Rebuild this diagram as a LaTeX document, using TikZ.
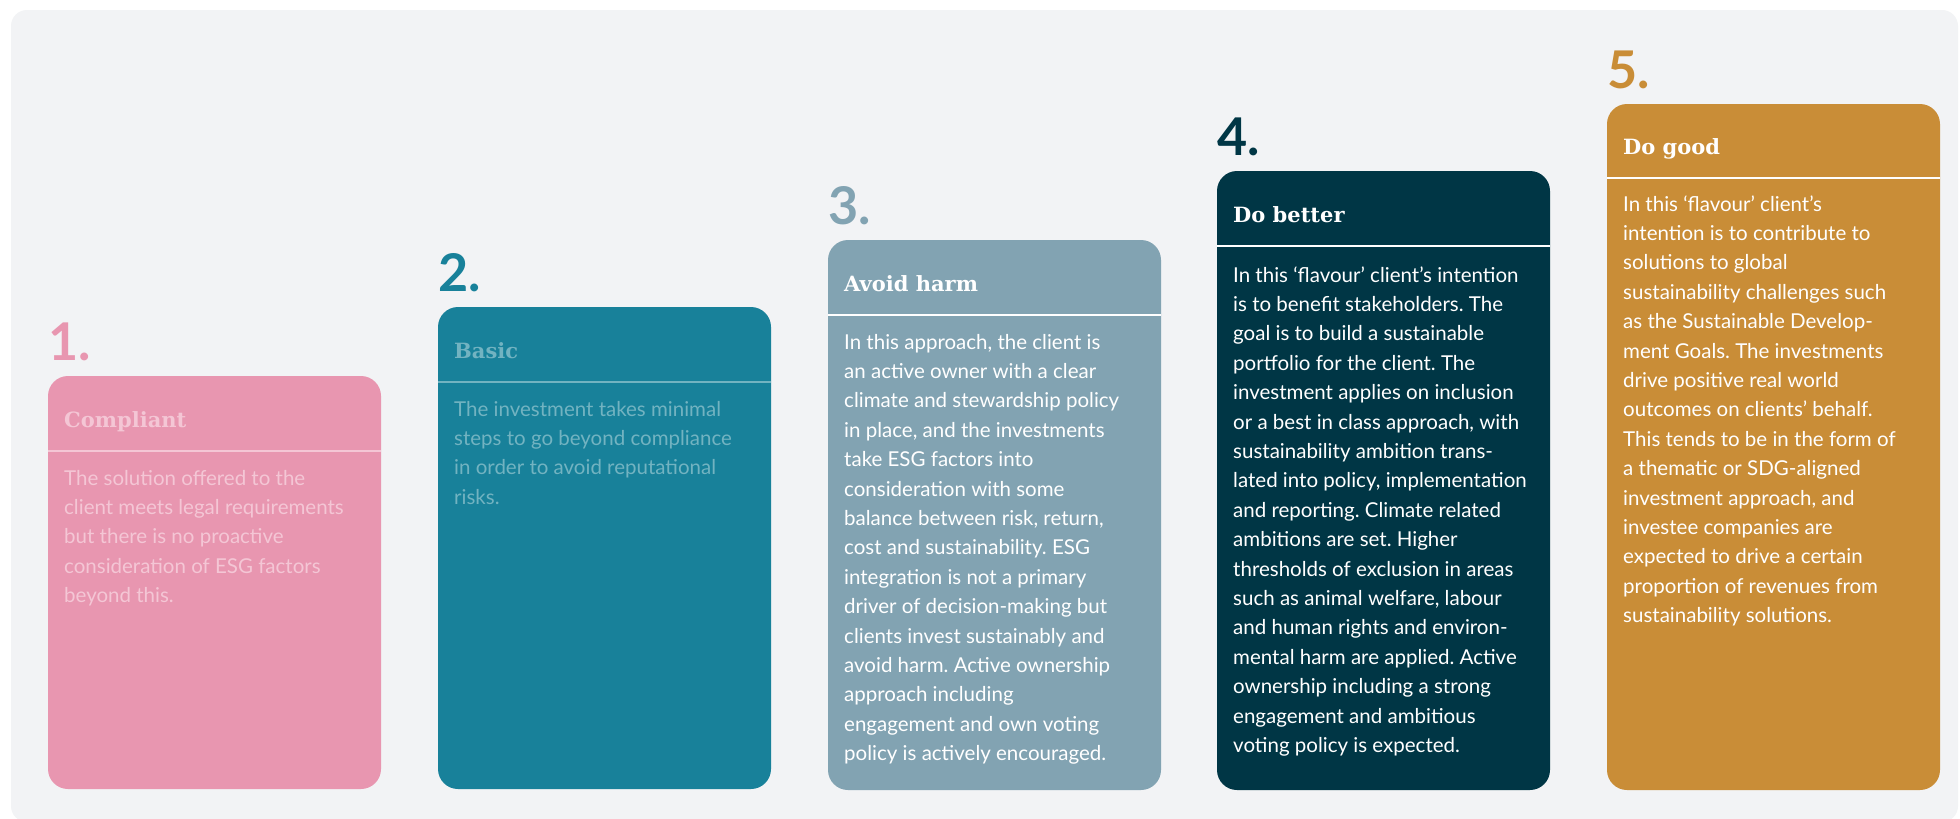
\documentclass[tikz,border=0pt]{standalone}
\usepackage{fontspec}
\setmainfont{Lato}
\newfontfamily\titlefont{DejaVu Serif}
\frenchspacing
\definecolor{bgc}{HTML}{F2F3F5}
\definecolor{pinkc}{HTML}{E896B0}
\definecolor{pinktx}{HTML}{F4C6D5}
\definecolor{tealc}{HTML}{18819A}
\definecolor{tealtx}{HTML}{72B3C1}
\definecolor{greyc}{HTML}{82A3B2}
\definecolor{darkc}{HTML}{003645}
\definecolor{goldc}{HTML}{C98D37}
\newcommand{\bodylines}[1]{\begin{tabular}[t]{@{}l@{}}#1\end{tabular}}
\begin{document}
\begin{tikzpicture}[x=1pt,y=-1pt,
  card/.style={rounded corners=20pt, inner sep=0pt, outer sep=0pt, minimum width=333pt, anchor=north west},
  num/.style={anchor=base west, inner sep=0pt, font=\fontsize{52}{52}\selectfont\bfseries},
  ttl/.style={anchor=base west, inner sep=0pt, font=\fontsize{21}{25}\selectfont\titlefont\bfseries},
  body/.style={anchor=base west, inner sep=0pt, font=\fontsize{20.5}{29.4}\selectfont\frenchspacing},
  sep/.style={line width=1.5pt}]
\useasboundingbox (0,0) rectangle (1960,819);
\fill[white] (0,0) rectangle (1960,819);
\fill[bgc, rounded corners=16pt] (11,10) rectangle (1958,822);

% card 1
\node[card, fill=pinkc, minimum height=413pt] (c1) at (48,376) {};
\node[num, text=pinkc] (n1) at (48,360) {1.};
\node[ttl, text=pinktx] (t1) at (64,427) {Compliant};
\draw[sep, pinktx] ([yshift=-75pt]c1.north west) -- ([yshift=-75pt]c1.north east);
\node[body, text=pinktx] (b1) at (64,485) {\bodylines{The solution offered to the\\client meets legal requirements\\but there is no proactive\\consideration of ESG factors\\beyond this.}};

% card 2
\node[card, fill=tealc, minimum height=482pt] (c2) at (438,307) {};
\node[num, text=tealc] (n2) at (438,291) {2.};
\node[ttl, text=tealtx] (t2) at (454,358) {Basic};
\draw[sep, tealtx] ([yshift=-75pt]c2.north west) -- ([yshift=-75pt]c2.north east);
\node[body, text=tealtx] (b2) at (454,416) {\bodylines{The investment takes minimal\\steps to go beyond compliance\\in order to avoid reputational\\risks.}};

% card 3
\node[card, fill=greyc, minimum height=550pt] (c3) at (828,240) {};
\node[num, text=greyc] (n3) at (828,224) {3.};
\node[ttl, text=white] (t3) at (844,291) {Avoid harm};
\draw[sep, white] ([yshift=-75pt]c3.north west) -- ([yshift=-75pt]c3.north east);
\node[body, text=white] (b3) at (844,349) {\bodylines{In this approach, the client is\\an active owner with a clear\\climate and stewardship policy\\in place, and the investments\\take ESG factors into\\consideration with some\\balance between risk, return,\\cost and sustainability. ESG\\integration is not a primary\\driver of decision-making but\\clients invest sustainably and\\avoid harm. Active ownership\\approach including\\engagement and own voting\\policy is actively encouraged.}};

% card 4
\node[card, fill=darkc, minimum height=619pt] (c4) at (1217,171) {};
\node[num, text=darkc] (n4) at (1217,155) {4.};
\node[ttl, text=white] (t4) at (1233,222) {Do better};
\draw[sep, white] ([yshift=-75pt]c4.north west) -- ([yshift=-75pt]c4.north east);
\node[body, text=white] (b4) at (1233,282) {\bodylines{In this ‘flavour’ client’s intention\\is to benefit stakeholders. The\\goal is to build a sustainable\\portfolio for the client. The\\investment applies on inclusion\\or a best in class approach, with\\sustainability ambition trans-\\lated into policy, implementation\\and reporting. Climate related\\ambitions are set. Higher\\thresholds of exclusion in areas\\such as animal welfare, labour\\and human rights and environ-\\mental harm are applied. Active\\ownership including a strong\\engagement and ambitious\\voting policy is expected.}};

% card 5
\node[card, fill=goldc, minimum height=686pt] (c5) at (1607,104) {};
\node[num, text=goldc] (n5) at (1607,88) {5.};
\node[ttl, text=white] (t5) at (1623,154) {Do good};
\draw[sep, white] ([yshift=-74pt]c5.north west) -- ([yshift=-74pt]c5.north east);
\node[body, text=white] (b5) at (1623,211) {\bodylines{In this ‘flavour’ client’s\\intention is to contribute to\\solutions to global\\sustainability challenges such\\as the Sustainable Develop-\\ment Goals. The investments\\drive positive real world\\outcomes on clients’ behalf.\\This tends to be in the form of\\a thematic or SDG-aligned\\investment approach, and\\investee companies are\\expected to drive a certain\\proportion of revenues from\\sustainability solutions.}};
\end{tikzpicture}
\end{document}
